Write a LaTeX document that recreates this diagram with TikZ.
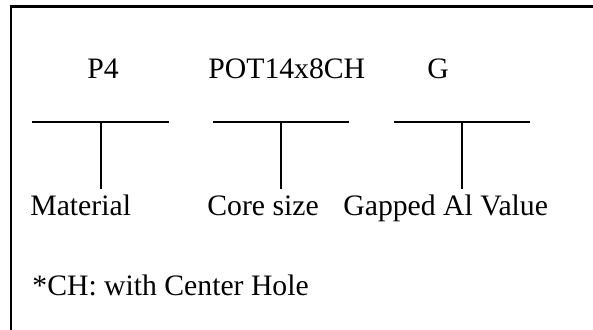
\documentclass[tikz,border=0pt]{standalone}
\usepackage{fontspec}
\setmainfont{Liberation Serif}
\begin{document}
\begin{tikzpicture}[x=0.5pt,y=-0.5pt,
  lbl/.style={anchor=base west,inner sep=0pt,font=\fontsize{14.85pt}{17pt}\selectfont},
  bar/.style={line width=0.6pt},
  frame/.style={line width=1.1pt}]
\useasboundingbox (0,0) rectangle (593,330);
% frame (top and left edges)
\draw[frame] (11,330) -- (11,6.5) -- (593,6.5);
% codes
\node[lbl] (p4) at (87,78.5) {P4};
\node[lbl] (pot) at (208,78.5) {POT14x8CH};
\node[lbl] (g) at (427,78.5) {G};
% labels
\node[lbl] (mat) at (30,216) {Material};
\node[lbl] (core) at (207,216) {Core size};
\node[lbl] (gap) at (343,216) {Gapped Al Value};
\node[lbl] (note) at (32,296) {*CH: with Center Hole};
% bars
\coordinate (b1l) at (32,122); \coordinate (b1r) at (169,122); \coordinate (b1m) at (101,122); \coordinate (b1e) at (101,189);
\coordinate (b2l) at (213,122); \coordinate (b2r) at (349,122); \coordinate (b2m) at (281,122); \coordinate (b2e) at (281,189);
\coordinate (b3l) at (394,122); \coordinate (b3r) at (530,122); \coordinate (b3m) at (462,122); \coordinate (b3e) at (462,189);
\draw[bar] (b1l) -- (b1r); \draw[bar] (b1m) -- (b1e);
\draw[bar] (b2l) -- (b2r); \draw[bar] (b2m) -- (b2e);
\draw[bar] (b3l) -- (b3r); \draw[bar] (b3m) -- (b3e);
\end{tikzpicture}
\end{document}
